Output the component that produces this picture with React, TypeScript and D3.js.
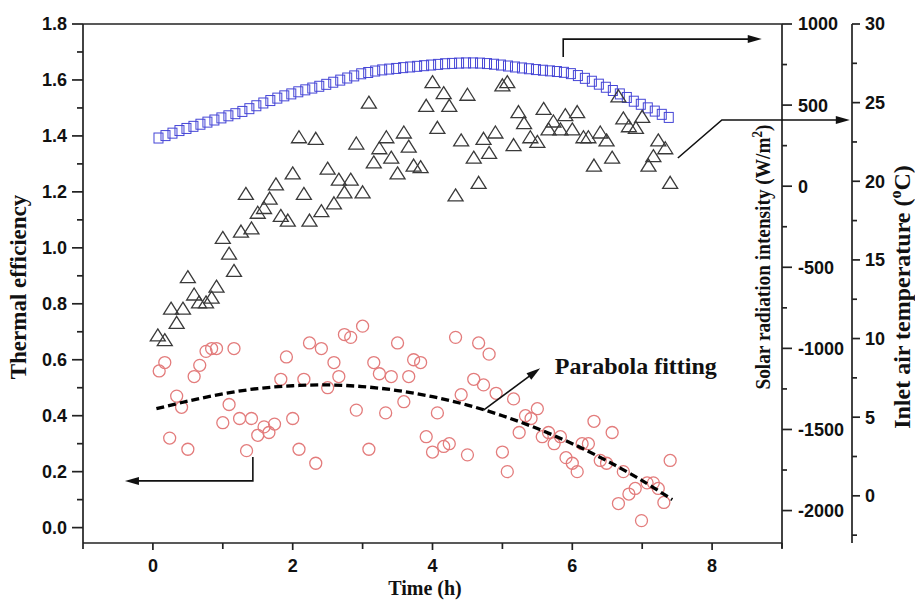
import React from 'react';
import * as d3 from 'd3';

const W = 915;
const H = 600;

// ---- Solar radiation intensity (blue squares, right axis W/m2) ----
const squareTime = [0.08,0.18,0.28,0.38,0.48,0.58,0.68,0.78,0.88,0.98,1.08,1.18,1.28,1.38,1.48,1.58,1.68,1.78,1.88,1.98,2.08,2.18,2.28,2.38,2.48,2.58,2.68,2.78,2.88,2.98,3.08,3.18,3.28,3.38,3.48,3.58,3.68,3.78,3.88,3.98,4.08,4.18,4.28,4.38,4.48,4.58,4.68,4.78,4.88,4.98,5.08,5.18,5.28,5.38,5.48,5.58,5.68,5.78,5.88,5.98,6.08,6.18,6.28,6.38,6.48,6.58,6.68,6.78,6.88,6.98,7.08,7.18,7.28,7.38];
const solarValues = [297,312,327,343,356,369,382,395,408,421,434,447,461,478,496,513,528,543,557,569,582,594,605,616,628,641,654,667,680,693,701,710,717,722,726,731,735,739,743,747,751,755,757,759,760,760,759,756,752,747,741,735,729,724,719,715,711,707,702,694,682,665,647,629,610,590,569,547,524,505,483,463,443,424];

// ---- Inlet air temperature (triangles, far right axis °C) ----
const triangleTime = [0.07,0.17,0.26,0.43,0.34,0.50,0.59,0.66,0.76,0.84,0.91,1.00,1.09,1.16,1.26,1.33,1.41,1.50,1.59,1.67,1.76,1.83,1.93,2.00,2.09,2.16,2.24,2.33,2.41,2.50,2.59,2.66,2.74,2.83,2.91,3.00,3.09,3.16,3.24,3.34,3.41,3.50,3.59,3.66,3.73,3.83,3.91,4.00,4.07,4.16,4.24,4.33,4.41,4.50,4.59,4.66,4.73,4.81,4.90,5.00,5.07,5.16,5.23,5.31,5.40,5.50,5.59,5.66,5.73,5.83,5.90,6.00,6.07,6.16,6.23,6.31,6.40,6.49,6.57,6.66,6.73,6.81,6.91,7.00,7.09,7.16,7.23,7.33,7.40];
const triangleTemp = [10.2,9.9,11.9,11.9,11.0,13.9,12.8,12.3,12.3,12.6,13.3,16.4,15.4,14.3,16.8,19.2,17.0,18.0,18.3,18.9,19.8,17.8,17.5,20.5,22.8,19.2,17.5,22.7,18.1,20.8,18.6,20.1,19.3,20.1,22.4,19.3,25.0,21.2,22.1,22.8,21.5,20.5,23.1,22.2,21.0,20.9,24.8,26.3,23.4,25.6,24.8,19.1,22.6,25.5,21.5,19.9,22.7,21.8,23.1,26.1,26.3,22.3,24.4,23.7,22.8,22.5,24.6,23.3,23.8,23.3,24.2,23.3,24.4,22.8,22.8,21.0,23.1,22.6,21.5,25.4,24.0,23.5,23.4,24.1,21.0,21.6,22.6,22.1,19.9];

// ---- Thermal efficiency (red circles, left axis) ----
const circleTime = [0.09,0.17,0.24,0.34,0.41,0.50,0.59,0.67,0.76,0.84,0.91,1.00,1.09,1.16,1.24,1.34,1.41,1.50,1.59,1.66,1.74,1.83,1.91,2.00,2.09,2.16,2.24,2.33,2.41,2.50,2.59,2.66,2.74,2.83,2.91,3.00,3.09,3.16,3.24,3.33,3.41,3.50,3.59,3.66,3.73,3.83,3.91,4.00,4.07,4.16,4.24,4.33,4.41,4.50,4.59,4.66,4.73,4.81,4.91,5.00,5.07,5.16,5.24,5.33,5.41,5.50,5.57,5.66,5.74,5.83,5.91,6.00,6.07,6.14,6.23,6.31,6.40,6.49,6.57,6.66,6.73,6.81,6.90,6.99,7.07,7.16,7.23,7.31,7.40];
const circleEff = [0.56,0.59,0.32,0.47,0.43,0.28,0.54,0.58,0.63,0.64,0.64,0.375,0.44,0.64,0.39,0.275,0.39,0.33,0.36,0.34,0.37,0.53,0.61,0.39,0.28,0.53,0.66,0.23,0.64,0.50,0.59,0.54,0.69,0.68,0.42,0.72,0.28,0.59,0.55,0.41,0.54,0.66,0.45,0.54,0.60,0.59,0.325,0.27,0.41,0.29,0.30,0.68,0.475,0.26,0.53,0.66,0.51,0.62,0.48,0.27,0.20,0.46,0.34,0.40,0.39,0.425,0.325,0.34,0.30,0.325,0.25,0.23,0.20,0.30,0.30,0.38,0.24,0.23,0.34,0.086,0.20,0.12,0.14,0.025,0.16,0.16,0.14,0.09,0.24];

// ---- Parabola fitting curve ----
const fitTime = [0.05,0.5,1,1.5,2,2.5,3,3.5,4,4.5,5,5.5,6,6.5,7,7.43];
const fitEff = [0.425,0.452,0.478,0.497,0.507,0.51,0.504,0.49,0.468,0.438,0.40,0.354,0.30,0.238,0.168,0.10];

// ---- Ticks ----
const xMajor = [0, 2, 4, 6, 8];
const xMinor = [-1, 1, 3, 5, 7, 9];
const effMajor = [0, 0.2, 0.4, 0.6, 0.8, 1.0, 1.2, 1.4, 1.6, 1.8];
const effMinor = [0.1, 0.3, 0.5, 0.7, 0.9, 1.1, 1.3, 1.5, 1.7];
const solarMajor = [-2000, -1500, -1000, -500, 0, 500, 1000];
const solarMinor = [-1750, -1250, -750, -250, 250, 750];
const tempMajor = [0, 5, 10, 15, 20, 25, 30];
const tempMinor = [-2.5, 2.5, 7.5, 12.5, 17.5, 22.5, 27.5];

// ---- Annotation arrows in data units (time h, efficiency) ----
const arrowCircles = [[1.43, 0.252], [1.43, 0.167], [-0.40, 0.167]];
const arrowSquares = [[5.87, 1.682], [5.87, 1.746], [8.71, 1.746]];
const arrowTriangles = [[7.51, 1.321], [8.14, 1.457], [9.97, 1.457]];
const arrowFit = [[4.73, 0.42], [5.54, 0.57]];
const fitLabelPos = [5.75, 0.55];

const SERIF = '"Liberation Serif", "Times New Roman", serif';
const SANS = '"Liberation Sans", Arial, sans-serif';

export default function App() {
  const x = d3.scaleLinear().domain([-1, 9]).range([83, 782]);
  const yL = d3.scaleLinear().domain([-0.055, 1.8]).range([543, 24]);
  const yS = d3.scaleLinear().domain([-2200, 1000]).range([543, 24]);
  const yT = d3.scaleLinear().domain([-3, 30]).range([543, 24]);

  const left = x(-1), right = x(9), top = yL(1.8), bottom = yL(-0.055);
  const tAxis = 852;

  const fitLine = d3.line<number>()
    .x((_, i) => x(fitTime[i]))
    .y((_, i) => yL(fitEff[i]))
    .curve(d3.curveCatmullRom)(fitEff) as string;

  const toPts = (a: number[][]) => a.map(([t, v]) => [x(t), yL(v)] as [number, number]);
  const poly = (pts: [number, number][]) => d3.line()(pts) as string;
  const head = (pts: [number, number][]) => {
    const [x1, y1] = pts[pts.length - 2];
    const [x2, y2] = pts[pts.length - 1];
    const ang = Math.atan2(y2 - y1, x2 - x1);
    const L = 14, Wd = 4;
    const bx = x2 - L * Math.cos(ang), by = y2 - L * Math.sin(ang);
    const nx = -Math.sin(ang) * Wd, ny = Math.cos(ang) * Wd;
    return `M${x2},${y2}L${bx + nx},${by + ny}L${bx - nx},${by - ny}Z`;
  };
  const arrow = (a: number[][], key: string) => {
    const pts = toPts(a);
    const last = pts[pts.length - 1];
    const prev = pts[pts.length - 2];
    const ang = Math.atan2(last[1] - prev[1], last[0] - prev[0]);
    const shaft = pts.slice(0, -1).concat([[last[0] - 10 * Math.cos(ang), last[1] - 10 * Math.sin(ang)]]) as [number, number][];
    return (
      <g key={key}>
        <path d={poly(shaft)} fill="none" stroke="#111" strokeWidth={1.6} />
        <path d={head(pts)} fill="#111" />
      </g>
    );
  };

  const axisStroke = '#222';
  const sw = 1.7;

  return (
    <svg width={W} height={H} style={{ position: 'absolute', left: 0, top: 0, background: '#fff' }}>
      <rect x={0} y={0} width={W} height={H} fill="#fff" />

      {/* squares */}
      <g fill="none" stroke="#4545d6" strokeWidth={1}>
        {solarValues.map((v, i) => (
          <rect key={i} x={x(squareTime[i]) - 4.5} y={yS(v) - 5} width={9} height={10} />
        ))}
      </g>

      {/* triangles */}
      <g fill="none" stroke="#3a3a3a" strokeWidth={1.3}>
        {triangleTemp.map((v, i) => {
          const cx = x(triangleTime[i]);
          const cy = yT(v);
          return <path key={i} d={`M${cx},${cy - 6.5}L${cx + 7.5},${cy + 5.5}L${cx - 7.5},${cy + 5.5}Z`} />;
        })}
      </g>

      {/* circles */}
      <g fill="none" stroke="#e37c7c" strokeWidth={1.3}>
        {circleEff.map((v, i) => (
          <circle key={i} cx={x(circleTime[i])} cy={yL(v)} r={6} />
        ))}
      </g>

      {/* parabola fitting */}
      <path d={fitLine} fill="none" stroke="#000" strokeWidth={3.3} strokeDasharray="8,4" />

      {/* frame / axes */}
      <g stroke={axisStroke} strokeWidth={sw} fill="none">
        <line x1={left} y1={top} x2={right} y2={top} />
        <line x1={left} y1={bottom} x2={right} y2={bottom} />
        <line x1={left} y1={top} x2={left} y2={bottom} />
        <line x1={right} y1={top} x2={right} y2={bottom + 5} />
        <line x1={tAxis} y1={yT(30)} x2={tAxis} y2={bottom} />
        {xMajor.map(t => <line key={'xM' + t} x1={x(t)} y1={bottom} x2={x(t)} y2={bottom + 7} />)}
        {xMinor.map(t => <line key={'xm' + t} x1={x(t)} y1={bottom} x2={x(t)} y2={bottom + 6} />)}
        {effMajor.map(v => <line key={'eM' + v} x1={left - 11} y1={yL(v)} x2={left} y2={yL(v)} />)}
        {effMinor.map(v => <line key={'em' + v} x1={left - 6} y1={yL(v)} x2={left} y2={yL(v)} />)}
        {solarMajor.map(v => <line key={'sM' + v} x1={right} y1={yS(v)} x2={right + 10} y2={yS(v)} />)}
        {solarMinor.map(v => <line key={'sm' + v} x1={right} y1={yS(v)} x2={right + 5} y2={yS(v)} />)}
        {tempMajor.map(v => <line key={'tM' + v} x1={tAxis} y1={yT(v)} x2={tAxis + 8} y2={yT(v)} />)}
        {tempMinor.map(v => <line key={'tm' + v} x1={tAxis} y1={yT(v)} x2={tAxis + 5} y2={yT(v)} />)}
      </g>

      {/* tick labels */}
      <g fontFamily={SANS} fontWeight="bold" fontSize={18} fill="#111">
        {xMajor.map(t => (
          <text key={'xl' + t} x={x(t)} y={572} textAnchor="middle">{t}</text>
        ))}
        {effMajor.map(v => (
          <text key={'el' + v} x={67} y={yL(v)} dy="0.36em" textAnchor="end">{v.toFixed(1)}</text>
        ))}
        {solarMajor.map(v => (
          <text key={'sl' + v} x={798} y={yS(v)} dy="0.36em" textAnchor="start">{v}</text>
        ))}
        {tempMajor.map(v => (
          <text key={'tl' + v} x={865} y={yT(v)} dy="0.36em" textAnchor="start">{v}</text>
        ))}
      </g>

      {/* axis titles */}
      <g fontFamily={SERIF} fontWeight="bold" fill="#111">
        <text x={425} y={595} textAnchor="middle" fontSize={20}>Time (h)</text>
        <text transform="translate(26,287) rotate(-90)" textAnchor="middle" fontSize={23}>Thermal efficiency</text>
        <text transform="translate(770,257) rotate(-90)" textAnchor="middle" fontSize={22} textLength={265} lengthAdjust="spacingAndGlyphs">
          Solar radiation intensity (W/m<tspan fontSize={15} dy={-8}>2</tspan><tspan dy={8}>)</tspan>
        </text>
        <text transform="translate(910,297) rotate(-90)" textAnchor="middle" fontSize={24}>
          Inlet air temperature (<tspan fontSize={16} dy={-9}>o</tspan><tspan dy={9}>C)</tspan>
        </text>
        <text x={x(fitLabelPos[0])} y={yL(fitLabelPos[1])} fontSize={24}>Parabola fitting</text>
      </g>

      {/* annotation arrows */}
      {arrow(arrowCircles, 'a1')}
      {arrow(arrowSquares, 'a2')}
      {arrow(arrowTriangles, 'a3')}
      {arrow(arrowFit, 'a4')}
    </svg>
  );
}
